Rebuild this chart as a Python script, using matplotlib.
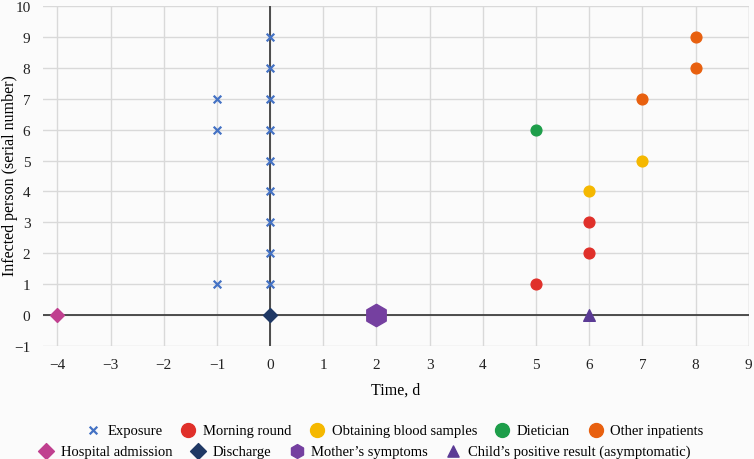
import matplotlib.pyplot as plt
import numpy as np

plt.rcParams['font.family'] = 'serif'
plt.rcParams['font.serif'] = ['Liberation Serif', 'DejaVu Serif']

exp_x = [-1, -1, -1, 0, 0, 0, 0, 0, 0, 0, 0, 0]
exp_y = [1, 6, 7, 1, 2, 3, 4, 5, 6, 7, 8, 9]
round_x = [5, 6, 6]
round_y = [1, 2, 3]
blood_x = [6, 7]
blood_y = [4, 5]
diet_x = [5]
diet_y = [6]
other_x = [7, 8, 8]
other_y = [7, 8, 9]
adm_x, adm_y = [-4], [0]
dis_x, dis_y = [0], [0]
mother_x, mother_y = [2], [0]
child_x, child_y = [6], [0]

bg = "#fbfbfb"
fig = plt.figure(figsize=(7.54, 4.6), dpi=100, facecolor=bg)
ax = fig.add_axes([0.057, 0.2457, 0.936, 0.739], facecolor=bg)

ax.set_xlim(-4.27, 9)
ax.set_ylim(-1, 10)
ax.set_xticks(np.arange(-4, 10))
ax.set_yticks(np.arange(-1, 11))
for s in ax.spines.values():
    s.set_visible(False)
ax.grid(True, color="#d9d9d9", lw=1)
ax.set_axisbelow(True)
ax.axvline(9, color="#d9d9d9", lw=1, zorder=0)
ax.axhline(0, color="#404040", lw=1.3, zorder=1)
ax.axvline(0, color="#404040", lw=1.3, zorder=1)
ax.tick_params(length=0, labelsize=11, colors="#222222", pad=9)

h = []
h.append(ax.scatter(exp_x, exp_y, marker="x", s=30, color="#4472c4", lw=1.6, zorder=3, label="Exposure"))
h.append(ax.scatter(round_x, round_y, marker="o", s=60, color="#e0302a", zorder=3, label="Morning round"))
h.append(ax.scatter(blood_x, blood_y, marker="o", s=60, color="#f5b800", zorder=3, label="Obtaining blood samples"))
h.append(ax.scatter(diet_x, diet_y, marker="o", s=60, color="#1e9e4a", zorder=3, label="Dietician"))
h.append(ax.scatter(other_x, other_y, marker="o", s=60, color="#e8600f", zorder=3, label="Other inpatients"))
h2 = []
h2.append(ax.scatter(adm_x, adm_y, marker="D", s=50, color="#c0408f", zorder=3, label="Hospital admission"))
h2.append(ax.scatter(dis_x, dis_y, marker="D", s=50, color="#1f3864", zorder=3, label="Discharge"))
h2.append(ax.scatter(mother_x, mother_y, marker="h", s=260, color="#7540a0", zorder=3, label="Mother\u2019s symptoms"))
h2.append(ax.scatter(child_x, child_y, marker="^", s=70, color="#5b3b95", zorder=3, label="Child\u2019s positive result (asymptomatic)"))

ax.set_xlabel("Time, d", fontsize=11.5, labelpad=7)
fig.text(10 / 754, 1 - 176 / 460, "Infected person (serial number)", fontsize=11.5,
         rotation=90, ha="center", va="center")

kw = dict(frameon=False, fontsize=10.5, handletextpad=0.4, columnspacing=1.15, handlelength=1.2)
leg1 = fig.legend(handles=h, ncol=5, loc="center", bbox_to_anchor=(394 / 754, 1 - 431 / 460), **kw)
leg2 = fig.legend(handles=h2, ncol=4, loc="center", bbox_to_anchor=(364 / 754, 1 - 452 / 460), **kw)
for lh in leg1.legend_handles[1:]:
    lh.set_sizes([100])
for lh in leg2.legend_handles:
    lh.set_sizes([65])
leg2.legend_handles[2].set_sizes([100])

fig.savefig("out.png", dpi=100, facecolor=bg)
